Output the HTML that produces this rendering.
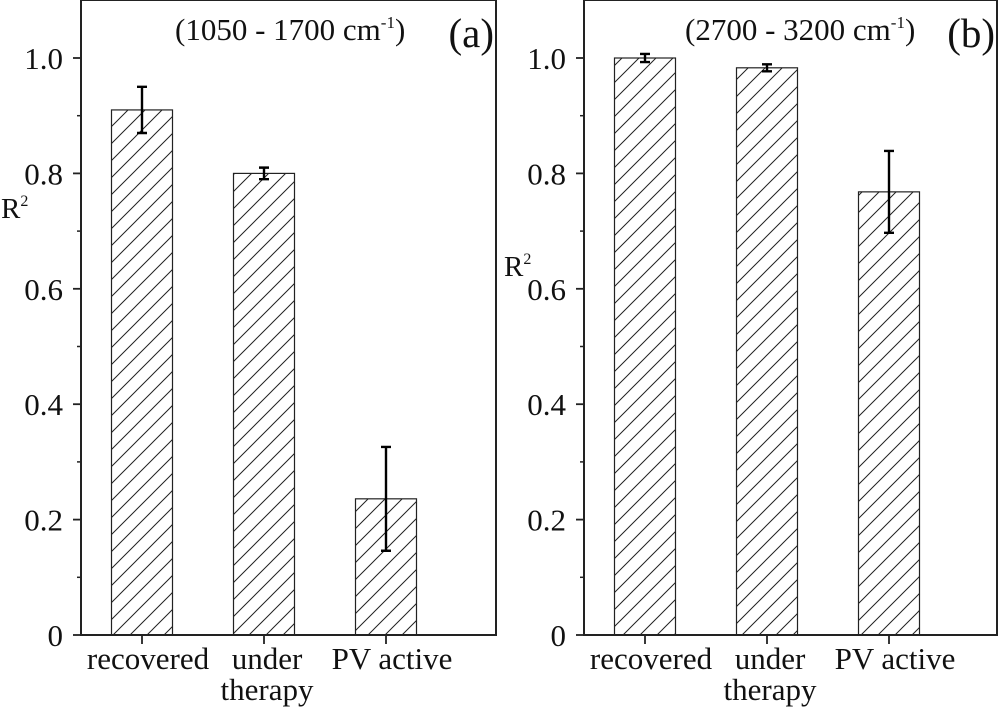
<!DOCTYPE html>
<html><head><meta charset="utf-8"><style>
body{margin:0;background:#fff;}
svg{display:block;font-family:"Liberation Serif",serif;}
</style></head><body>
<svg id="chart" width="1000" height="709" xmlns="http://www.w3.org/2000/svg">
<defs>
<pattern id="hatch" patternUnits="userSpaceOnUse" width="17" height="17">
<path d="M-2,19 L19,-2 M-2,2 L2,-2 M15,19 L19,15" stroke="#222" stroke-width="1"/>
</pattern>
</defs>
</svg>
<script>
const categories=["recovered","under therapy","PV active"];
const valuesA=[0.91,0.80,0.236];
const errorsA=[0.04,0.01,0.09];
const valuesB=[1.0,0.983,0.768];
const errorsB=[0.007,0.006,0.071];
const yTicks=[0,0.2,0.4,0.6,0.8,1.0];
const yTickLabels=["0","0.2","0.4","0.6","0.8","1.0"];
const minorTicks=[0.1,0.3,0.5,0.7,0.9];
const svg=document.getElementById('chart');
const NS="http://www.w3.org/2000/svg";
function mk(tag,attrs,parent){const e=document.createElementNS(NS,tag);for(const k in attrs)e.setAttribute(k,attrs[k]);(parent||svg).appendChild(e);return e;}
function panel(id,left,right,vals,errs,title,letter,rY,titleX){
  const g=mk('g',{});
  
  
  const bottom=635,top=0;
  const y=v=>bottom-v*577;
  const x=i=>left+61+i*122;
  vals.forEach((v,i)=>{
    const r=mk('rect',{x:x(i)-30.5,y:y(v),width:61,height:bottom-y(v),fill:'url(#hatch)',stroke:'#222','stroke-width':1.2},g);
    
    
    const e=mk('path',{d:`M${x(i)},${y(v+errs[i])}V${y(v-errs[i])}M${x(i)-5},${y(v+errs[i])}h10M${x(i)-5},${y(v-errs[i])}h10`,stroke:'#000','stroke-width':2.4,fill:'none'},g);
    
    
  });
  const f=mk('rect',{x:left,y:top,width:right-left,height:bottom-top,fill:'none',stroke:'#222','stroke-width':2},g);
  
  
  yTicks.forEach((t,i)=>{
    mk('line',{x1:left-8,x2:left,y1:y(t),y2:y(t),stroke:'#222','stroke-width':1.8},g);
    const tx=mk('text',{x:left-18,y:y(t)+11,'text-anchor':'end','font-size':31,fill:'#111'},g);
    tx.textContent=yTickLabels[i];
    
    
  });
  minorTicks.forEach(t=>mk('line',{x1:left-4,x2:left,y1:y(t),y2:y(t),stroke:'#222','stroke-width':1.5},g));
  categories.forEach((c,i)=>{
    mk('line',{x1:x(i),x2:x(i),y1:bottom,y2:bottom+9,stroke:'#222','stroke-width':1.8},g);
    const parts=c==="under therapy"?["under","therapy"]:[c];
    parts.forEach((p,j)=>{
      const tx=mk('text',{x:x(i)+(i==2?6:i==0?6:3),y:669+j*31,'text-anchor':'middle','font-size':31,fill:'#111'},g);
      tx.textContent=p;
      
      
    });
  });
  const tt=mk('text',{x:titleX,y:40,'font-size':31,fill:'#111'},g);
  tt.innerHTML=title+' cm<tspan dy="-12" font-size="17">-1</tspan><tspan dy="12">)</tspan>';
  
  
  const lt=mk('text',{x:right-2,y:47,'text-anchor':'end','font-size':41,fill:'#111'},g);
  lt.textContent=letter;
  
  
  const yl=mk('text',{x:left-80,y:rY,'font-size':29,fill:'#111'},g);
  yl.innerHTML='R<tspan dy="-12" font-size="16">2</tspan>';
  
  
}
panel('a',81,496,valuesA,errorsA,'(1050 - 1700','(a)',218,175);
panel('b',584,997,valuesB,errorsB,'(2700 - 3200','(b)',276,685);
</script>
</body></html>
